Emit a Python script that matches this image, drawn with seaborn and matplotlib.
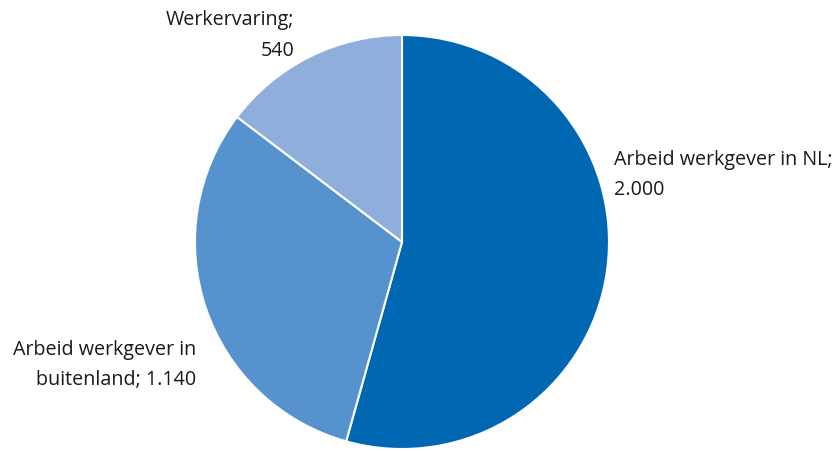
import matplotlib
matplotlib.use('Agg')
import matplotlib.pyplot as plt
import seaborn as sns

# data
categories = ['Arbeid werkgever in NL', 'Arbeid werkgever in\nbuitenland', 'Werkervaring']
values = [2000, 1140, 540]
value_labels = ['2.000', '1.140', '540']
colors = ['#0067b3', '#5592ce', '#90aedb']

sns.set_theme(style='white')
plt.rcParams['font.family'] = ['Open Sans', 'DejaVu Sans']

W, H = 838, 451
fig = plt.figure(figsize=(W / 100, H / 100), dpi=100)
cx, cy, r = 402, 242, 207
ax = fig.add_axes([(cx - r) / W, (H - cy - r) / H, 2 * r / W, 2 * r / H])

ax.pie(values, colors=sns.color_palette(colors), startangle=90, counterclock=False,
       wedgeprops=dict(edgecolor='white', linewidth=1.5))
ax.set_xlim(-1, 1)
ax.set_ylim(-1, 1)
ax.set_aspect('equal')

fs = 14.2
ls = 1.7
fig.text(614 / W, 1 - 150 / H, categories[0] + ';\n' + value_labels[0],
         ha='left', va='top', fontsize=fs, color='#1a1a1a', linespacing=ls)
fig.text(196 / W, 1 - 340 / H, categories[1] + '; ' + value_labels[1],
         ha='right', va='top', fontsize=fs, color='#1a1a1a', linespacing=ls, multialignment='right')
fig.text(294 / W, 1 - 10 / H, categories[2] + ';\n' + value_labels[2],
         ha='right', va='top', fontsize=fs, color='#1a1a1a', linespacing=ls, multialignment='right')

fig.savefig('out.png', dpi=100)
